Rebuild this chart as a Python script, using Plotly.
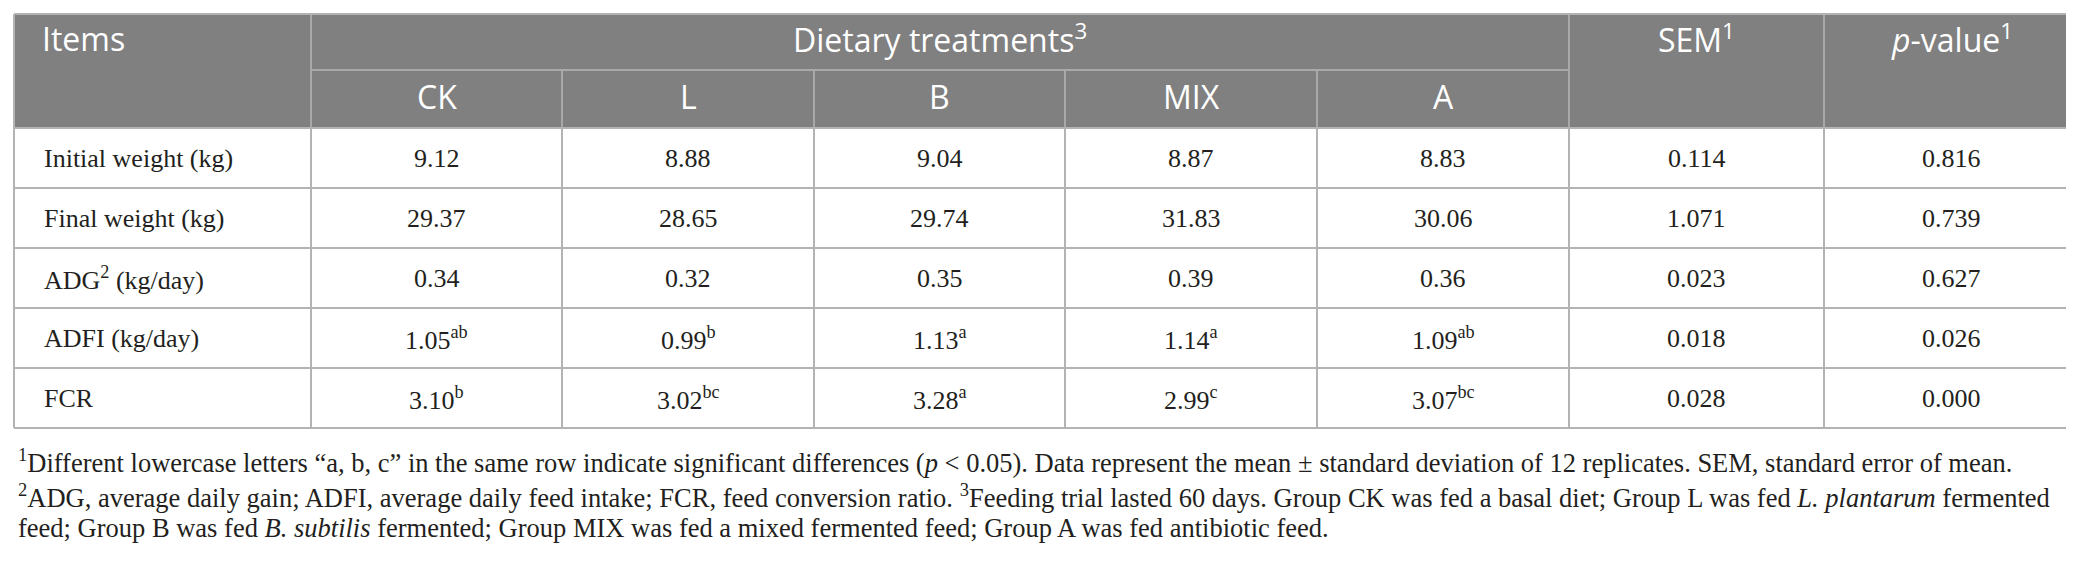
import plotly.graph_objects as go

# table content
items = ["Initial weight (kg)", "Final weight (kg)", "ADG<sup>2</sup> (kg/day)", "ADFI (kg/day)", "FCR"]
groups = ["CK", "L", "B", "MIX", "A"]

ck_vals = [9.12, 29.37, 0.34, 1.05, 3.10]
ck_sig = ["", "", "", "ab", "b"]
l_vals = [8.88, 28.65, 0.32, 0.99, 3.02]
l_sig = ["", "", "", "b", "bc"]
b_vals = [9.04, 29.74, 0.35, 1.13, 3.28]
b_sig = ["", "", "", "a", "a"]
mix_vals = [8.87, 31.83, 0.39, 1.14, 2.99]
mix_sig = ["", "", "", "a", "c"]
a_vals = [8.83, 30.06, 0.36, 1.09, 3.07]
a_sig = ["", "", "", "ab", "bc"]
sem = [0.114, 1.071, 0.023, 0.018, 0.028]
p_values = [0.816, 0.739, 0.627, 0.026, 0.000]

footnotes = [
    "<sup>1</sup>Different lowercase letters \u201ca, b, c\u201d in the same row indicate significant differences "
    "(<i>p</i> < 0.05). Data represent the mean \u00b1 standard deviation of 12 replicates. SEM, standard error of mean.",
    "<sup>2</sup>ADG, average daily gain; ADFI, average daily feed intake; FCR, feed conversion ratio. "
    "<sup>3</sup>Feeding trial lasted 60 days. Group CK was fed a basal diet; Group L was fed "
    "<i>L. plantarum</i> fermented",
    "feed; Group B was fed <i>B. subtilis</i> fermented; Group MIX was fed a mixed fermented feed; "
    "Group A was fed antibiotic feed.",
]

# geometry (pixel-like axis units)
W, H = 2074, 571
col_widths = [297, 251, 252, 251, 252, 252, 255, 255]
row_heights = [56, 58, 60, 60, 60, 60, 60]
x_start, y_start = 6, 6
foot_y = [453, 488, 520]

col_edges = [x_start]
for w in col_widths:
    col_edges.append(col_edges[-1] + w)
row_edges = [y_start]
for h in row_heights:
    row_edges.append(row_edges[-1] + h)

HEAD_FILL = "#808080"
HEAD_LINE = "#a9a9a9"
BODY_LINE = "#b3b3b3"
TEXT = "#231f20"
SERIF = "Liberation Serif"
SANS = "Open Sans"

fig = go.Figure()
shapes = []


def line(x0, y0, x1, y1, color):
    shapes.append(dict(type="line", xref="x", yref="y", x0=x0, y0=y0, x1=x1, y1=y1,
                       line=dict(color=color, width=2)))


# header block
shapes.append(dict(type="rect", xref="x", yref="y", x0=col_edges[0], x1=col_edges[-1],
                   y0=row_edges[0], y1=row_edges[2], fillcolor=HEAD_FILL, line=dict(width=0), layer="below"))
line(col_edges[1], row_edges[1], col_edges[6], row_edges[1], HEAD_LINE)
for i in (1, 6, 7):
    line(col_edges[i], row_edges[0], col_edges[i], row_edges[2], HEAD_LINE)
for i in (2, 3, 4, 5):
    line(col_edges[i], row_edges[1], col_edges[i], row_edges[2], HEAD_LINE)

# body grid
for r in range(2, len(row_edges)):
    line(col_edges[0], row_edges[r], col_edges[-1], row_edges[r], BODY_LINE)
for c in range(1, len(col_edges) - 1):
    line(col_edges[c], row_edges[2], col_edges[c], row_edges[-1], BODY_LINE)

# outer border
line(col_edges[0], row_edges[0], col_edges[-1], row_edges[0], BODY_LINE)
line(col_edges[0], row_edges[0], col_edges[0], row_edges[-1], BODY_LINE)
line(col_edges[-1], row_edges[0], col_edges[-1], row_edges[-1], BODY_LINE)

annotations = []


def text(x, y, s, family, size, color, align="center"):
    annotations.append(dict(x=x, y=y, xref="x", yref="y", text=s, showarrow=False,
                            xanchor=align, yanchor="middle",
                            font=dict(family=family, size=size, color=color)))


def cx(i):
    return (col_edges[i] + col_edges[i + 1]) / 2


def cy(i):
    return (row_edges[i] + row_edges[i + 1]) / 2


# header texts (sit slightly above the cell centre)
head_y0 = cy(0) - 4
head_y1 = cy(1) - 3
text(col_edges[0] + 26, head_y0, "Items", SANS, 32, "white", "left")
text((col_edges[1] + col_edges[6]) / 2, head_y0, "Dietary treatments<sup>3</sup>", SANS, 32, "white")
text(cx(6), head_y0, "SEM<sup>1</sup>", SANS, 32, "white")
text(cx(7), head_y0, "<i>p</i>-value<sup>1</sup>", SANS, 32, "white")
for j, g in enumerate(groups):
    text(cx(j + 1), head_y1, g, SANS, 32, "white")

# body texts
series = [(ck_vals, ck_sig), (l_vals, l_sig), (b_vals, b_sig), (mix_vals, mix_sig), (a_vals, a_sig)]
for r, item in enumerate(items):
    y = cy(r + 2)
    text(col_edges[0] + 28, y, item, SERIF, 26, TEXT, "left")
    for j, (vals, sig) in enumerate(series):
        s = f"{vals[r]:.2f}" + (f"<sup>{sig[r]}</sup>" if sig[r] else "")
        text(cx(j + 1), y, s, SERIF, 26, TEXT)
    text(cx(6), y, f"{sem[r]:.3f}", SERIF, 26, TEXT)
    text(cx(7), y, f"{p_values[r]:.3f}", SERIF, 26, TEXT)

# footnotes
for k, note in enumerate(footnotes):
    text(x_start + 2, foot_y[k], note, SERIF, 26.5, TEXT, "left")

fig.update_layout(
    width=W, height=H,
    margin=dict(l=0, r=0, t=0, b=0),
    paper_bgcolor="white", plot_bgcolor="white",
    xaxis=dict(range=[0, W], visible=False, fixedrange=True),
    yaxis=dict(range=[H, 0], visible=False, fixedrange=True),
    shapes=shapes, annotations=annotations,
    showlegend=False,
)

fig.write_html("out.html")
